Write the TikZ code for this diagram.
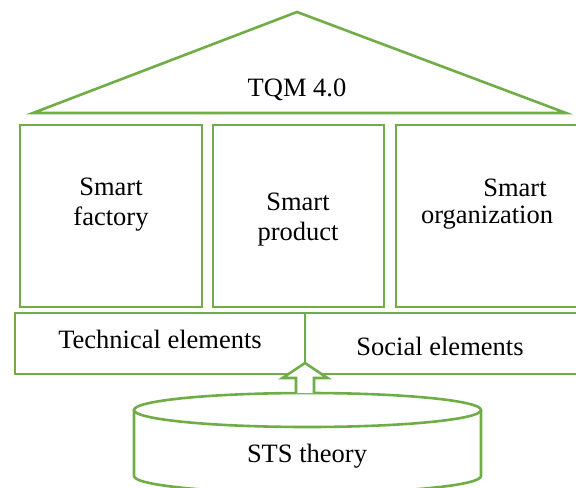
\documentclass[tikz,border=0pt]{standalone}
\usepackage{fontspec}
\setmainfont{Liberation Serif}
\definecolor{lg}{HTML}{70AD47}
\begin{document}
\begin{tikzpicture}[x=1bp,y=-1bp,
  line/.style={draw=lg,line width=2.6bp},
  box/.style={line,fill=white,inner sep=0pt,minimum height=182bp},
  bar/.style={line,fill=white,inner sep=0pt,minimum height=61bp},
  lbl/.style={font=\fontsize{26.5bp}{30bp}\selectfont,align=center,inner sep=0pt}]
\useasboundingbox (0,0) rectangle (576,488);
\clip (0,0) rectangle (576,488);
% roof
\coordinate (apex) at (297,12);
\coordinate (rl) at (33,113);
\coordinate (rr) at (566,113);
\draw[line,line join=miter] (rl) -- (apex) -- (rr) -- cycle;
\node[lbl] (tqm) at (297,90) {TQM 4.0};
% pillars
\node[box,minimum width=182bp] (fac) at (111,216) {};
\node[box,minimum width=171bp] (prod) at (298.5,216) {};
\node[box,minimum width=194bp] (org) at (493,216) {};
\node[lbl] (tfac) at (111,205) {Smart\\factory};
\node[lbl] (tprod) at (298,220) {Smart\\product};
\node[lbl] (torgA) at (515,188) {Smart};
\node[lbl] (torgB) at (487,218) {organization};
% base bar
\node[bar,minimum width=290bp] (tech) at (160,343.5) {};
\node[bar,minimum width=295bp] (soc) at (452.5,343.5) {};
\node[lbl] (ttech) at (160,339) {Technical elements};
\node[lbl] (tsoc) at (440,346) {Social elements};
% cylinder
\coordinate (cl) at (134,410);
\coordinate (cr) at (481,410);
\draw[line,fill=white] (cl) -- (134,476) arc[start angle=180,end angle=360,x radius=173.5,y radius=-17] -- (cr);
\draw[line,fill=white] (307.5,410) ellipse[x radius=173.5,y radius=17];
\node[lbl] (sts) at (307,456) {STS theory};
% hollow arrow from cylinder to bar
\coordinate (tip) at (305,363);
\draw[line,fill=white,line join=miter] (296,393) -- (296,378) -- (282.5,378) -- (tip) -- (327.5,378) -- (314,378) -- (314,393);
\end{tikzpicture}
\end{document}
